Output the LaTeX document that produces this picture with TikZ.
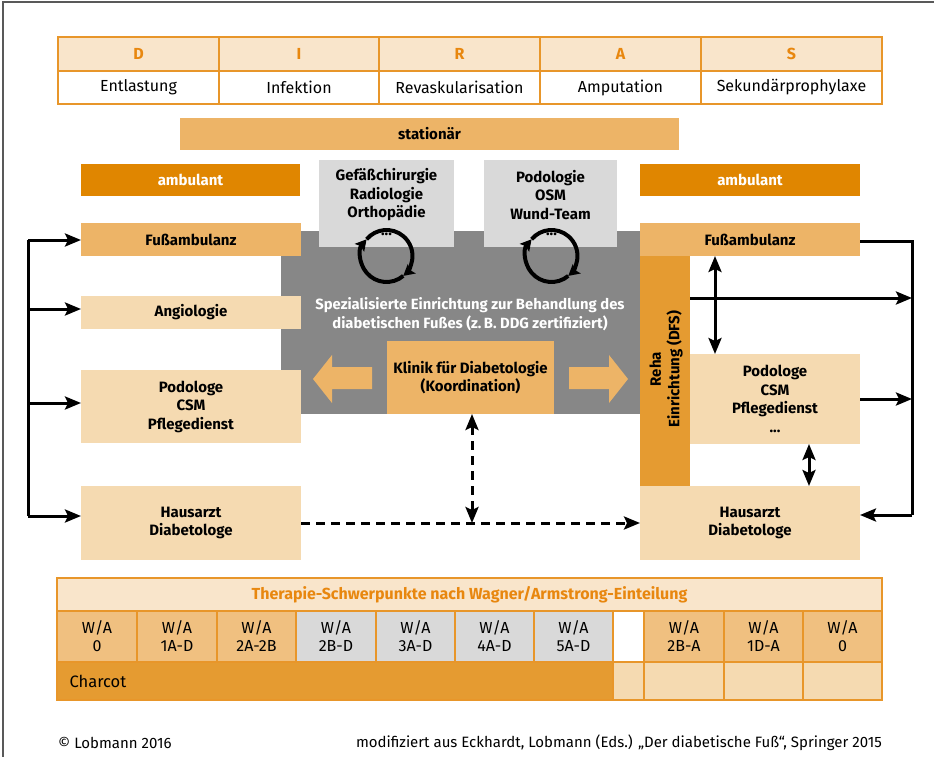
\documentclass[tikz,border=0pt]{standalone}
\usepackage{fontspec}
\setmainfont{Fira Sans}
\usetikzlibrary{arrows.meta}
\definecolor{peach}{HTML}{F9E5CB}
\definecolor{orangetxt}{HTML}{E8870F}
\definecolor{tabor}{HTML}{E8962A}
\definecolor{midorange}{HTML}{EDB467}
\definecolor{darkorange}{HTML}{E08600}
\definecolor{lightpeach}{HTML}{F5DAB1}
\definecolor{rehaorange}{HTML}{E59B31}
\definecolor{waorange}{HTML}{F0C080}
\definecolor{lightgrey}{HTML}{D9D9D9}
\definecolor{darkgrey}{HTML}{878787}
\newcommand\mybox[7]{\node[box,#6,minimum width={(#4-#2)*1pt},minimum height={(#5-#3)*1pt}] (#1) at (#2,#3) {#7};}
\tikzset{
  box/.style={inner sep=0pt, outer sep=0pt, anchor=north west, align=center, font=\bfseries\fontsize{15}{18.5}\selectfont},
  cell/.style={draw=tabor, line width=1.3pt},
  hdr/.style={cell, fill=peach, text=orangetxt, font=\bfseries\fontsize{16}{18}\selectfont},
  plain/.style={font=\fontsize{16}{18}\selectfont},
  btext/.style={align=center, inner sep=0pt, font=\bfseries\fontsize{15}{18.5}\selectfont},
  ln/.style={line width=3pt, line join=miter},
  arr/.style={ln, -{Stealth[length=16pt,width=13pt,inset=3pt]}},
  darr/.style={ln, {Stealth[length=16pt,width=13pt,inset=3pt]}-{Stealth[length=16pt,width=13pt,inset=3pt]}},
  dsh/.style={dash pattern=on 9pt off 6pt},
  cyc/.style={line width=4pt, -{Stealth[length=11pt,width=12pt,inset=2pt]}},
}
\begin{document}
\begin{tikzpicture}[x=1pt,y=-1pt]
\useasboundingbox (0,0) rectangle (934,757);
\fill[white] (0,0) rectangle (934,757);
\draw[black!65, line width=1.5pt] (3,757) -- (3,2) -- (934,2);

% DIRAS table
\mybox{hD}{58}{37}{219}{71}{hdr}{D}
\mybox{hI}{219}{37}{379}{71}{hdr}{I}
\mybox{hR}{379}{37}{540}{71}{hdr}{R}
\mybox{hA}{540}{37}{701}{71}{hdr}{A}
\mybox{hS}{701}{37}{882}{71}{hdr}{S}
\mybox{tD}{58}{71}{219}{104}{cell,fill=white,plain}{Entlastung}
\mybox{tI}{219}{71}{379}{104}{cell,fill=white,plain}{Infektion}
\mybox{tR}{379}{71}{540}{104}{cell,fill=white,plain}{Revaskularisation}
\mybox{tA}{540}{71}{701}{104}{cell,fill=white,plain}{Amputation}
\mybox{tS}{701}{71}{882}{104}{cell,fill=white,plain}{Sekundärprophylaxe}

% stationaer / ambulant
\mybox{stat}{180}{118}{679}{150}{fill=midorange}{stationär}
\mybox{ambL}{81}{164}{300}{196}{fill=darkorange,text=white}{ambulant}
\mybox{ambR}{640}{164}{860}{196}{fill=darkorange,text=white}{ambulant}

% grey centre
\mybox{spez}{281}{231}{640}{414}{fill=darkgrey}{}
\mybox{gL}{319}{160}{454}{247}{fill=lightgrey}{}
\mybox{gR}{484}{160}{617}{247}{fill=lightgrey}{}
\node[btext] (gLt) at (386.5,195) {Gefäßchirurgie\\Radiologie\\Orthopädie};
\node[btext] (gRt) at (550.5,195) {Podologie\\OSM\\Wund-Team};
\node[btext, text=white, font=\bfseries\fontsize{14.8}{18.5}\selectfont] (spezt) at (470,314) {Spezialisierte Einrichtung zur Behandlung des\\diabetischen Fußes (z.\,B. DDG zertifiziert)};
\mybox{klinik}{387}{341}{554}{414}{fill=midorange}{Klinik für Diabetologie\\(Koordination)}

% block arrows
\fill[midorange] (372,367) -- (332,367) -- (332,355) -- (313,379) -- (332,403) -- (332,389) -- (372,389) -- cycle;
\fill[midorange] (569,367) -- (609,367) -- (609,355) -- (628,379) -- (609,403) -- (609,389) -- (569,389) -- cycle;

% cycles
\coordinate (cL) at (386.5,256);
\coordinate (cR) at (551.5,256);
\foreach \c in {cL,cR}{
  \draw[cyc] ([shift={(310:26pt)}]\c) arc[start angle=310, end angle=140, radius=26pt];
  \draw[cyc] ([shift={(140:26pt)}]\c) arc[start angle=140, end angle=-50, radius=26pt];
}
\node[btext] (dotsL) at (386.5,234) {...};
\node[btext] (dotsR) at (551.5,234) {...};

% left column
\mybox{fussL}{81}{223}{301}{256}{fill=midorange}{Fußambulanz}
\mybox{angL}{81}{296}{301}{329}{fill=lightpeach}{Angiologie}
\mybox{podL}{81}{370}{301}{443}{fill=lightpeach}{Podologe\\CSM\\Pflegedienst}
\mybox{hausL}{81}{486}{301}{560}{fill=lightpeach}{Hausarzt\\Diabetologe}

% right column
\mybox{fussR}{640}{223}{860}{256}{fill=midorange}{Fußambulanz}
\mybox{reha}{640}{256}{690}{486}{fill=rehaorange}{}
\node[btext, rotate=90] (rehat) at (666,369) {Reha\\Einrichtung (DFS)};
\mybox{podR}{690}{354}{860}{444}{fill=lightpeach}{Podologe\\CSM\\Pflegedienst\\...}
\mybox{hausR}{640}{486}{860}{560}{fill=lightpeach}{Hausarzt\\Diabetologe}

% left bus
\coordinate (lbt) at (28,240);
\coordinate (lbb) at (28,516);
\coordinate (lb2) at (28,309);
\coordinate (lb3) at (28,403);
\draw[ln] (lbt) -- (lbb);
\draw[arr] (lbt) -- (lbt -| fussL.west);
\draw[arr] (lb2) -- (lb2 -| angL.west);
\draw[arr] (lb3) -- (lb3 -| podL.west);
\draw[arr] (lbb) -- (lbb -| hausL.west);

% right bus
\coordinate (rbt) at (912,241);
\coordinate (rbb) at (912,515);
\coordinate (ry1) at (912,298);
\coordinate (ry2) at (912,399);
\draw[ln] (rbt -| fussR.east) -- (rbt) -- (rbb);
\draw[arr] (rbb) -- (rbb -| hausR.east);
\draw[arr] (ry1 -| reha.east) -- (ry1);
\draw[arr] (ry2 -| podR.east) -- (ry2);
\coordinate (dx1) at (715,0);
\coordinate (dx2) at (809,0);
\draw[darr] (dx1 |- fussR.south) -- (dx1 |- podR.north);
\draw[darr] (dx2 |- podR.south) -- (dx2 |- hausR.north);

% dashed
\coordinate (dy) at (472,523);
\draw[arr,dsh] (dy -| hausL.east) -- (dy -| hausR.west);
\draw[darr,dsh] (dy |- klinik.south) -- (dy);

% bottom table
\mybox{th}{57}{578}{882}{611}{hdr}{Therapie-Schwerpunkte nach Wagner/Armstrong-Einteilung}
\mybox{w1}{57}{611}{137}{662}{cell,fill=waorange,plain}{W/A\\0}
\mybox{w2}{137}{611}{217}{662}{cell,fill=waorange,plain}{W/A\\1A-D}
\mybox{w3}{217}{611}{296}{662}{cell,fill=waorange,plain}{W/A\\2A-2B}
\mybox{w4}{296}{611}{376}{662}{cell,fill=lightgrey,plain}{W/A\\2B-D}
\mybox{w5}{376}{611}{455}{662}{cell,fill=lightgrey,plain}{W/A\\3A-D}
\mybox{w6}{455}{611}{534}{662}{cell,fill=lightgrey,plain}{W/A\\4A-D}
\mybox{w7}{534}{611}{613}{662}{cell,fill=lightgrey,plain}{W/A\\5A-D}
\mybox{wg}{613}{611}{644}{662}{cell,fill=white}{}
\mybox{w8}{644}{611}{724}{662}{cell,fill=waorange,plain}{W/A\\2B-A}
\mybox{w9}{724}{611}{803}{662}{cell,fill=waorange,plain}{W/A\\1D-A}
\mybox{w10}{803}{611}{882}{662}{cell,fill=waorange,plain}{W/A\\0}
\mybox{ch}{57}{662}{613}{700}{cell,fill=rehaorange}{}
\node[plain, anchor=west, font=\fontsize{16.5}{18}\selectfont] (cht) at (66,681) {Charcot};
\mybox{c1}{613}{662}{644}{700}{cell,fill=lightpeach}{}
\mybox{c2}{644}{662}{724}{700}{cell,fill=lightpeach}{}
\mybox{c3}{724}{662}{803}{700}{cell,fill=lightpeach}{}
\mybox{c4}{803}{662}{882}{700}{cell,fill=lightpeach}{}

% footer
\node[anchor=west, inner sep=0pt, font=\fontsize{15}{17}\selectfont] (f1) at (58,743) {© Lobmann 2016};
\node[anchor=east, inner sep=0pt, font=\fontsize{15}{17}\selectfont] (f2) at (882,743) {modifiziert aus Eckhardt, Lobmann (Eds.) „Der diabetische Fuß“, Springer 2015};
\end{tikzpicture}
\end{document}
